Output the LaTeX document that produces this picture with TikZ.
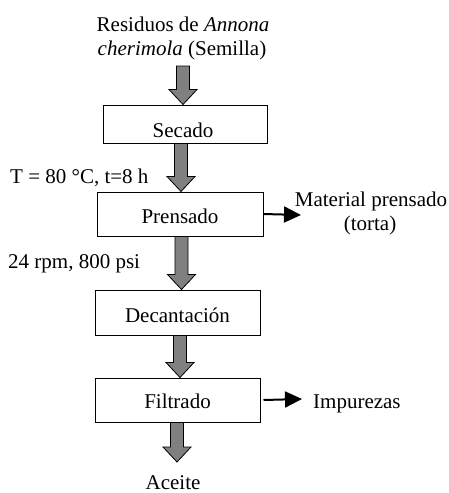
\documentclass[tikz,border=0pt]{standalone}
\usepackage{fontspec}
\setmainfont{Liberation Serif}
\usetikzlibrary{arrows.meta,calc}
\tikzset{
  every node/.style={font=\fontsize{21}{24}\selectfont},
  txt/.style={inner sep=0pt, anchor=base},
  txtl/.style={inner sep=0pt, anchor=base west},
  procbox/.style={draw=black, line width=1pt, inner sep=0pt, fill=white},
  fat/.style={draw=black, line width=0.8pt, fill=gray, line join=miter},
  side/.style={line width=2pt, -{Triangle[length=17pt,width=16pt]}}
}
\newcommand{\fatarrow}[2]{%
  \path[fat] let \p1=(#1), \p2=(#2) in
    (\x1-6.5pt,\y1) -- (\x1+6.5pt,\y1) -- (\x1+6.5pt,\y2+15pt) -- (\x1+14pt,\y2+15pt)
    -- (\x1,\y2) -- (\x1-14pt,\y2+15pt) -- (\x1-6.5pt,\y2+15pt) -- cycle;}
\begin{document}
\begin{tikzpicture}[x=1pt,y=-1pt]
\useasboundingbox (0,0) rectangle (449,493);
% title
\node[txt] (t1) at (183,31) {Residuos de \textit{Annona}};
\node[txt] (t2) at (182,55) {\textit{cherimola} (Semilla)};
\coordinate (a0) at (183,66);
% boxes
\node[procbox, minimum width=164pt, minimum height=38pt] (secado) at (185,124) {};
\node[txt] at (183,137) {Secado};
\node[procbox, minimum width=166pt, minimum height=44pt] (prensado) at (180,214) {};
\node[txt] at (180,223) {Prensado};
\node[procbox, minimum width=165pt, minimum height=45pt] (decant) at (177.5,312.5) {};
\node[txt] at (177.5,322) {Decantación};
\node[procbox, minimum width=165pt, minimum height=44pt] (filtrado) at (177.5,400) {};
\node[txt] at (177.5,408) {Filtrado};
% side labels
\node[txtl] (tcond) at (10,183) {T = 80 °C, t=8 h};
\node[txtl] (pcond) at (8,268) {24 rpm, 800 psi};
\node[txt] (matl) at (371,206) {Material prensado};
\node[txt] (torta) at (370,230) {(torta)};
\node[txtl] (imp) at (313,408) {Impurezas};
\node[txt] (aceite) at (173,489) {Aceite};
\coordinate (c5) at (177,462);
\coordinate (matend) at (301,215);
\coordinate (impend) at (302,399);
% fat arrows
\fatarrow{a0}{secado.north}
\fatarrow{$(secado.south)+(-4,0)$}{prensado.north}
\fatarrow{$(prensado.south)+(1.5,0)$}{decant.north}
\fatarrow{$(decant.south)+(2.5,0)$}{filtrado.north}
\fatarrow{$(filtrado.south)+(-0.5,0)$}{c5}
% side arrows
\draw[side] (prensado.east) -- (matend);
\draw[side] ($(filtrado.east)+(3,0)$) -- (impend);
\end{tikzpicture}
\end{document}
